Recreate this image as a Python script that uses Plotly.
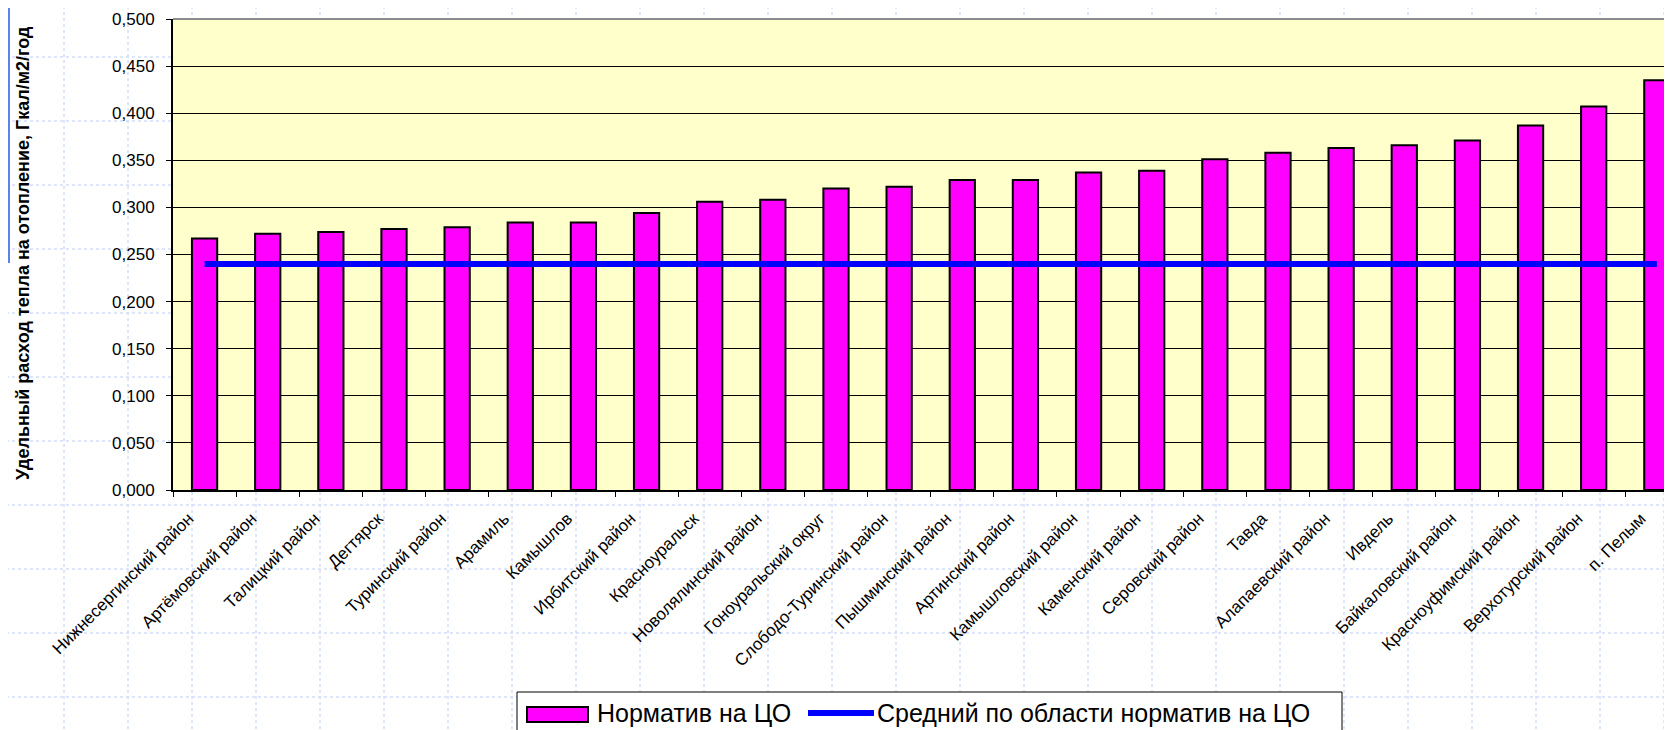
"""Удельный расход тепла на отопление по муниципалитетам."""

import plotly.graph_objects as go

districts = [
    "Нижнесергинский район", "Артёмовский район", "Талицкий район", "Дегтярск",
    "Туринский район", "Арамиль", "Камышлов", "Ирбитский район", "Красноуральск",
    "Новолялинский район", "Гоноуральский округ", "Слободо-Туринский район",
    "Пышминский район", "Артинский район", "Камышловский район", "Каменский район",
    "Серовский район", "Тавда", "Алапаевский район", "Ивдель", "Байкаловский район",
    "Красноуфимский район", "Верхотурский район", "п. Пелым",
]
norm_values = [
    0.267, 0.272, 0.274, 0.277, 0.279, 0.284, 0.284, 0.294, 0.306, 0.308,
    0.320, 0.322, 0.329, 0.329, 0.337, 0.339, 0.351, 0.358, 0.363, 0.366,
    0.371, 0.387, 0.407, 0.435,
]
avg_values = [0.240] * len(districts)

y_ticks = [0.0, 0.05, 0.1, 0.15, 0.2, 0.25, 0.3, 0.35, 0.4, 0.45, 0.5]

FONT = "Arial, 'Liberation Sans', sans-serif"
# page body has an 8px margin, so the figure is a bit smaller than the window
WIN_W, WIN_H, OFF = 1672, 730, 8
W, H = WIN_W - OFF, WIN_H - OFF
L, T, B = 165, 11, 240  # plot area in window px: x 173..1672, y 19..490


def px_x(px):
    # window pixel -> paper x
    return (px - OFF - L) / (W - L)


def px_y(py):
    # window pixel -> paper y
    return (H - B - (py - OFF)) / (H - B - T)


fig = go.Figure()
fig.add_bar(
    x=districts, y=norm_values, name="Норматив на ЦО",
    marker=dict(color="#FF00FF", line=dict(color="black", width=2)),
    showlegend=False,
)
fig.add_scatter(
    x=districts, y=avg_values, mode="lines", name="Средний по области норматив на ЦО",
    line=dict(color="#0000FF", width=6), showlegend=False,
)

grid_line = dict(color="#d3def7", width=1.5, dash="dot")
shapes = []
# excel-like sheet grid in the background
for k in range(1, 27):
    shapes.append(dict(type="line", xref="paper", yref="paper", layer="below",
                       x0=px_x(64 * k), x1=px_x(64 * k), y0=px_y(0), y1=px_y(WIN_H),
                       line=grid_line))
for k in range(0, 11):
    shapes.append(dict(type="line", xref="paper", yref="paper", layer="below",
                       x0=px_x(0), x1=px_x(WIN_W), y0=px_y(57 + 64 * k), y1=px_y(57 + 64 * k),
                       line=grid_line))
shapes.append(dict(type="line", xref="paper", yref="paper", layer="below",
                   x0=px_x(9), x1=px_x(9), y0=px_y(8), y1=px_y(263),
                   line=dict(color="#5f82e8", width=2)))
# plot area fill over the sheet grid
shapes.append(dict(type="rect", xref="paper", yref="paper", layer="below",
                   x0=0, x1=1, y0=0, y1=1, fillcolor="#FFFFCC", line=dict(width=0)))
# gray border on top of the plot area
shapes.append(dict(type="line", xref="paper", yref="paper", layer="above",
                   x0=0, x1=1, y0=1, y1=1, line=dict(color="#8c8c8c", width=2)))

# legend box, drawn by hand to get the wide Excel swatches
lg_top, lg_left, lg_right = 692, 517, 1342
shapes.append(dict(type="rect", xref="paper", yref="paper", layer="above",
                   x0=px_x(lg_left), x1=px_x(lg_right), y0=px_y(lg_top), y1=px_y(WIN_H + 10),
                   fillcolor="white", line=dict(color="black", width=1)))
shapes.append(dict(type="rect", xref="paper", yref="paper", layer="above",
                   x0=px_x(527), x1=px_x(588), y0=px_y(707), y1=px_y(722),
                   fillcolor="#FF00FF", line=dict(color="black", width=2)))
shapes.append(dict(type="line", xref="paper", yref="paper", layer="above",
                   x0=px_x(808), x1=px_x(874), y0=px_y(713), y1=px_y(713),
                   line=dict(color="#0000FF", width=6)))

annotations = [
    dict(text="<b>Удельный расход тепла на отопление, Гкал/м2/год</b>",
         xref="paper", yref="paper", x=px_x(23), y=px_y(253),
         xanchor="center", yanchor="middle", textangle=-90, showarrow=False,
         font=dict(family=FONT, size=18, color="black")),
    dict(text="Норматив на ЦО", xref="paper", yref="paper",
         x=px_x(595), y=px_y(713), xanchor="left", yanchor="middle", showarrow=False,
         font=dict(family=FONT, size=25, color="black")),
    dict(text="Средний по области норматив на ЦО", xref="paper", yref="paper",
         x=px_x(875), y=px_y(713), xanchor="left", yanchor="middle", showarrow=False,
         font=dict(family=FONT, size=25, color="black")),
]

fig.update_layout(
    width=W, height=H,
    margin=dict(l=L, r=0, t=T, b=B, autoexpand=False),
    paper_bgcolor="white", plot_bgcolor="rgba(0,0,0,0)",
    separators=", ",
    bargap=0.6,
    showlegend=False,
    shapes=shapes, annotations=annotations,
    font=dict(family=FONT, color="black"),
)
fig.update_xaxes(
    range=[-0.5, 23.24], showline=True, linecolor="black", linewidth=2,
    ticks="outside", tickson="boundaries", ticklen=5, tickcolor="black",
    tickangle=-45, tickfont=dict(family=FONT, size=17, color="black"),
    ticklabelshift=-16, ticklabelstandoff=10,
    showgrid=False,
)
fig.update_yaxes(
    range=[0, 0.5], tickvals=y_ticks, tickformat=".3f",
    showline=True, linecolor="black", linewidth=2,
    ticks="outside", ticklen=5, tickcolor="black",
    gridcolor="black", gridwidth=1, zeroline=False,
    tickfont=dict(family=FONT, size=17, color="black"), ticklabelstandoff=8,
)

fig.write_html("out.html")
